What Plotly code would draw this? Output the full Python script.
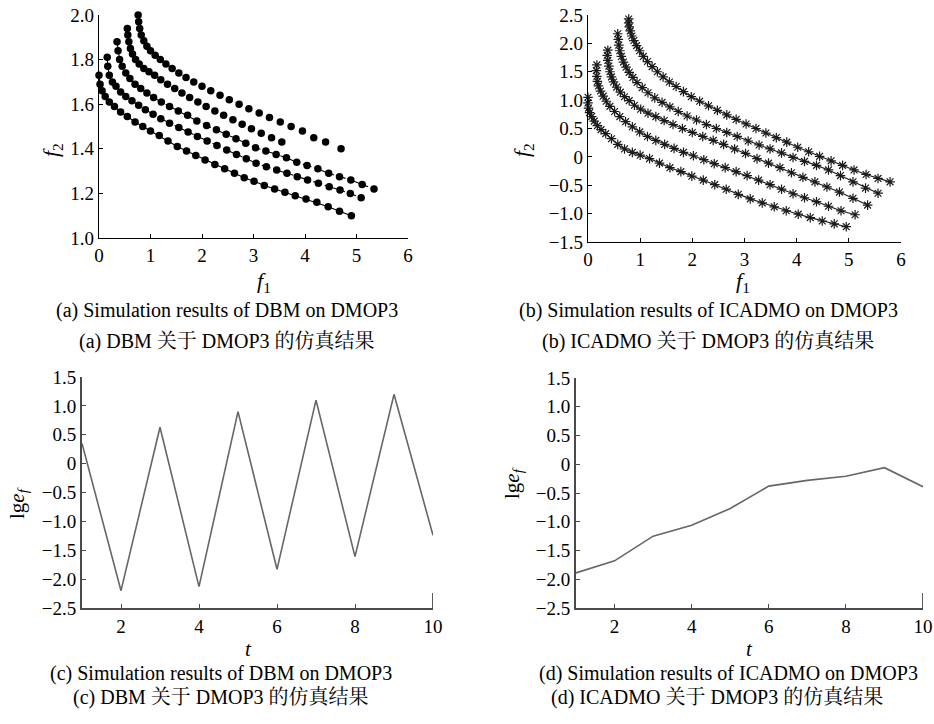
import plotly.graph_objects as go

W, H = 934, 724

# ---------------- (a) DBM on DMOP3: five fronts (f1, f2) ----------------
a1_f1 = [0.00,0.02,0.06,0.12,0.20,0.30,0.42,0.55,0.70,0.85,1.00,1.17,1.34,1.52,1.70,1.88,2.06,2.25,2.44,2.63,2.82,3.01,3.21,3.41,3.61,3.81,4.02,4.23,4.45,4.67,4.90]
a1_f2 = [1.73,1.69,1.66,1.635,1.61,1.59,1.565,1.545,1.52,1.50,1.48,1.46,1.435,1.41,1.39,1.37,1.35,1.33,1.31,1.29,1.27,1.255,1.235,1.22,1.205,1.19,1.175,1.16,1.14,1.12,1.10]

a2_f1 = [0.16,0.17,0.20,0.26,0.33,0.42,0.52,0.64,0.77,0.90,1.05,1.20,1.37,1.55,1.73,1.91,2.10,2.29,2.48,2.67,2.86,3.05,3.25,3.45,3.65,3.85,4.05,4.26,4.47,4.68,4.88,5.09]
a2_f2 = [1.81,1.77,1.73,1.70,1.68,1.655,1.635,1.615,1.595,1.575,1.555,1.535,1.515,1.495,1.475,1.455,1.435,1.415,1.395,1.375,1.355,1.335,1.32,1.305,1.29,1.275,1.26,1.245,1.23,1.215,1.20,1.18]

a3_f1 = [0.35,0.37,0.40,0.45,0.52,0.60,0.70,0.81,0.93,1.06,1.21,1.37,1.54,1.72,1.90,2.09,2.28,2.47,2.66,2.85,3.04,3.24,3.44,3.64,3.84,4.04,4.25,4.46,4.67,4.89,5.11,5.34]
a3_f2 = [1.88,1.84,1.80,1.77,1.74,1.715,1.69,1.67,1.65,1.63,1.61,1.59,1.57,1.55,1.525,1.505,1.485,1.465,1.445,1.425,1.405,1.39,1.375,1.36,1.34,1.325,1.31,1.29,1.275,1.26,1.24,1.22]

a4_f1 = [0.55,0.56,0.58,0.61,0.65,0.71,0.78,0.87,0.97,1.08,1.20,1.33,1.47,1.61,1.76,1.92,2.08,2.25,2.42,2.60,2.78,2.96,3.15,3.35,3.55]
a4_f2 = [1.94,1.91,1.88,1.85,1.825,1.80,1.78,1.76,1.745,1.73,1.71,1.69,1.67,1.65,1.63,1.61,1.59,1.57,1.55,1.53,1.51,1.49,1.47,1.45,1.43]

a5_f1 = [0.76,0.77,0.79,0.82,0.87,0.93,1.00,1.09,1.19,1.30,1.42,1.55,1.69,1.84,2.00,2.17,2.35,2.53,2.72,2.91,3.11,3.31,3.52,3.73,3.95,4.17,4.40,4.70]
a5_f2 = [2.00,1.97,1.94,1.91,1.885,1.86,1.84,1.82,1.80,1.78,1.76,1.74,1.72,1.70,1.68,1.66,1.64,1.62,1.60,1.58,1.56,1.54,1.52,1.50,1.48,1.45,1.43,1.40]

# ---------------- (b) ICADMO on DMOP3: five fronts ----------------
b1_f1 = [0.00,0.00,0.01,0.03,0.07,0.12,0.18,0.25,0.34,0.45,0.57,0.70,0.85,1.00,1.18,1.37,1.57,1.78,1.99,2.21,2.43,2.65,2.88,3.11,3.34,3.57,3.80,4.03,4.26,4.49,4.72,4.95]
b1_f2 = [1.05,0.95,0.86,0.78,0.71,0.63,0.55,0.48,0.41,0.32,0.22,0.14,0.08,0.03,-0.03,-0.11,-0.19,-0.26,-0.34,-0.41,-0.49,-0.57,-0.66,-0.74,-0.81,-0.88,-0.95,-1.01,-1.07,-1.13,-1.18,-1.23]

b2_f1 = [0.17,0.16,0.17,0.18,0.20,0.24,0.29,0.35,0.42,0.51,0.61,0.72,0.85,0.99,1.14,1.30,1.47,1.65,1.83,2.02,2.22,2.42,2.63,2.84,3.05,3.27,3.49,3.71,3.93,4.15,4.38,4.61,4.85,5.12]
b2_f2 = [1.62,1.52,1.42,1.33,1.25,1.16,1.07,0.98,0.89,0.80,0.71,0.62,0.53,0.44,0.36,0.29,0.22,0.15,0.08,0.02,-0.05,-0.12,-0.19,-0.26,-0.33,-0.41,-0.49,-0.57,-0.65,-0.72,-0.79,-0.87,-0.95,-1.02]

b3_f1 = [0.38,0.37,0.38,0.40,0.42,0.45,0.49,0.55,0.62,0.70,0.79,0.89,1.01,1.15,1.30,1.46,1.63,1.81,2.00,2.20,2.40,2.60,2.81,3.02,3.24,3.46,3.68,3.90,4.12,4.35,4.58,4.82,5.08,5.36]
b3_f2 = [1.88,1.79,1.70,1.60,1.50,1.41,1.32,1.23,1.14,1.06,0.99,0.91,0.84,0.77,0.71,0.64,0.57,0.50,0.43,0.36,0.29,0.22,0.14,0.06,-0.03,-0.11,-0.19,-0.28,-0.36,-0.44,-0.53,-0.62,-0.73,-0.85]

b4_f1 = [0.57,0.58,0.59,0.61,0.64,0.68,0.73,0.79,0.86,0.94,1.04,1.15,1.28,1.42,1.57,1.73,1.90,2.08,2.27,2.46,2.66,2.86,3.07,3.28,3.49,3.71,3.93,4.15,4.38,4.61,4.84,5.08,5.32,5.56]
b4_f2 = [2.17,2.07,1.97,1.87,1.77,1.67,1.58,1.49,1.40,1.31,1.22,1.13,1.04,0.96,0.88,0.80,0.72,0.65,0.57,0.50,0.43,0.36,0.28,0.21,0.14,0.07,-0.01,-0.08,-0.15,-0.23,-0.33,-0.44,-0.55,-0.64]

b5_f1 = [0.78,0.78,0.79,0.81,0.84,0.88,0.93,0.99,1.06,1.14,1.23,1.33,1.44,1.56,1.69,1.83,1.98,2.14,2.31,2.48,2.66,2.84,3.03,3.22,3.41,3.61,3.81,4.02,4.23,4.44,4.66,4.88,5.10,5.33,5.56,5.79]
b5_f2 = [2.43,2.36,2.29,2.22,2.13,2.05,1.96,1.87,1.77,1.68,1.59,1.50,1.41,1.32,1.24,1.15,1.06,0.98,0.90,0.82,0.74,0.66,0.58,0.50,0.42,0.34,0.26,0.17,0.09,0.01,-0.07,-0.15,-0.23,-0.31,-0.38,-0.44]

# ---------------- (c), (d) lg e_f over t ----------------
t_vals = [1, 2, 3, 4, 5, 6, 7, 8, 9, 10]
c_lgef = [0.35, -2.20, 0.63, -2.13, 0.90, -1.83, 1.10, -1.61, 1.20, -1.24]
d_lgef = [-1.89, -1.68, -1.25, -1.06, -0.77, -0.38, -0.28, -0.21, -0.06, -0.39]

# tick labels
a_yticks = [1.0, 1.2, 1.4, 1.6, 1.8, 2.0]
a_yticktext = ["1.0", "1.2", "1.4", "1.6", "1.8", "2.0"]
b_yticks = [-1.5, -1.0, -0.5, 0, 0.5, 1.0, 1.5, 2.0, 2.5]
b_yticktext = ["\u22121.5", "\u22121.0", "\u22120.5", "0", "0.5", "1.0", "1.5", "2.0", "2.5"]
cd_yticks = [-2.5, -2.0, -1.5, -1.0, -0.5, 0, 0.5, 1.0, 1.5]
cd_yticktext = ["\u22122.5", "\u22122.0", "\u22121.5", "\u22121.0", "\u22120.5", "0", "0.5", "1.0", "1.5"]
f1_ticks = [0, 1, 2, 3, 4, 5, 6]
t_ticks = [2, 4, 6, 8, 10]

FONT = "Times New Roman, Liberation Serif, Noto Serif CJK SC, Noto Sans CJK SC, serif"

fig = go.Figure()

# panel (a)
a_series = [
    (a1_f1, a1_f2, "lines+markers", "solid"),
    (a2_f1, a2_f2, "lines+markers", "dashdot"),
    (a3_f1, a3_f2, "lines+markers", "dashdot"),
    (a4_f1, a4_f2, "markers", "solid"),
    (a5_f1, a5_f2, "markers", "solid"),
]
for xs, ys, mode, dash in a_series:
    fig.add_trace(go.Scatter(x=xs, y=ys, mode=mode, xaxis="x", yaxis="y",
                             line=dict(color="black", width=1.1, dash=dash),
                             marker=dict(symbol="circle", size=7.5, color="black"),
                             cliponaxis=False, showlegend=False))

# panel (b)
for xs, ys in [(b1_f1, b1_f2), (b2_f1, b2_f2), (b3_f1, b3_f2), (b4_f1, b4_f2), (b5_f1, b5_f2)]:
    fig.add_trace(go.Scatter(x=xs, y=ys, mode="lines+markers", xaxis="x2", yaxis="y2",
                             line=dict(color="#1a1a1a", width=1.1),
                             marker=dict(symbol="asterisk-open", size=8,
                                         line=dict(color="#939393", width=1.2)),
                             cliponaxis=False, showlegend=False))

# panel (c)
fig.add_trace(go.Scatter(x=t_vals, y=c_lgef, mode="lines", xaxis="x3", yaxis="y3",
                         line=dict(color="#666666", width=1.6), showlegend=False))
# panel (d)
fig.add_trace(go.Scatter(x=t_vals, y=d_lgef, mode="lines", xaxis="x4", yaxis="y4",
                         line=dict(color="#666666", width=1.6), showlegend=False))


def dx(p):
    return p / W


def dy(p):
    return 1 - p / H


axis_common = dict(showline=True, linecolor="black", linewidth=1.2, ticks="inside",
                   ticklen=4, tickwidth=1, tickcolor="black", showgrid=False,
                   zeroline=False, automargin=False, ticklabeloverflow="allow",
                   tickfont=dict(family=FONT, size=19, color="black"))
axis_cd = {**axis_common, "linecolor": "#4a4a4a", "linewidth": 1.8, "tickcolor": "#4a4a4a"}

fig.update_layout(
    template="none",
    width=W, height=H, margin=dict(l=0, r=0, t=0, b=0, autoexpand=False),
    paper_bgcolor="white", plot_bgcolor="white", showlegend=False,
    font=dict(family=FONT, color="black"),
    xaxis=dict(domain=[dx(99), dx(408)], range=[0, 6], anchor="y",
               tickvals=f1_ticks, **axis_common),
    yaxis=dict(domain=[dy(238), dy(15)], range=[1, 2], anchor="x",
               tickvals=a_yticks, ticktext=a_yticktext, **axis_common),
    xaxis2=dict(domain=[dx(588), dx(901)], range=[0, 6], anchor="y2",
                tickvals=f1_ticks, **axis_common),
    yaxis2=dict(domain=[dy(242), dy(15)], range=[-1.5, 2.5], anchor="x2",
                tickvals=b_yticks, ticktext=b_yticktext, **axis_common),
    xaxis3=dict(domain=[dx(82), dx(433)], range=[1, 10], anchor="y3",
                tickvals=t_ticks, **axis_cd),
    yaxis3=dict(domain=[dy(608), dy(377)], range=[-2.5, 1.5], anchor="x3",
                tickvals=cd_yticks, ticktext=cd_yticktext, **axis_cd),
    xaxis4=dict(domain=[dx(576), dx(923)], range=[1, 10], anchor="y4",
                tickvals=t_ticks, **axis_cd),
    yaxis4=dict(domain=[dy(608), dy(378)], range=[-2.5, 1.5], anchor="x4",
                tickvals=cd_yticks, ticktext=cd_yticktext, **axis_cd),
)

# short right-edge marks at t = 10 (partial box edge)
for xr, yr in [("x3", "y3"), ("x4", "y4")]:
    fig.add_shape(type="line", xref=xr, yref=yr, x0=10, x1=10, y0=-2.5, y1=-2.24,
                  line=dict(color="#4a4a4a", width=1.8))

ann = []


def label(text, x, y, size=20, angle=0):
    ann.append(dict(text=text, x=dx(x), y=dy(y), xref="paper", yref="paper",
                    showarrow=False, xanchor="center", yanchor="middle",
                    textangle=angle, font=dict(family=FONT, size=size, color="black")))


# axis titles
label("<i>f</i><sub>2</sub>", 52, 150, 22, -90)
label("<i>f</i><sub>1</sub>", 264, 282, 22)
label("<i>f</i><sub>2</sub>", 523, 150, 22, -90)
label("<i>f</i><sub>1</sub>", 743, 282, 22)
label("lg<i>e</i><sub><i>f</i></sub>", 18, 503, 21, -90)
label("<i>t</i>", 248, 649, 21)
label("lg<i>e</i><sub><i>f</i></sub>", 513, 483, 21, -90)
label("<i>t</i>", 749, 649, 21)

# captions
label("(a) Simulation results of DBM on DMOP3", 227, 310, 20)
label("(a) DBM 关于 DMOP3 的仿真结果", 227, 342, 20)
label("(b) Simulation results of ICADMO on DMOP3", 708, 310, 20)
label("(b) ICADMO 关于 DMOP3 的仿真结果", 708, 342, 20)
label("(c) Simulation results of DBM on DMOP3", 221, 673, 20)
label("(c) DBM 关于 DMOP3 的仿真结果", 221, 697, 20)
label("(d) Simulation results of ICADMO on DMOP3", 728, 673, 20)
label("(d) ICADMO 关于 DMOP3 的仿真结果", 717, 697, 20)

fig.update_layout(annotations=ann)

fig.write_html("out.html", config={"displayModeBar": False},
               post_script="document.body.style.margin='0px';document.body.style.overflow='hidden';")
